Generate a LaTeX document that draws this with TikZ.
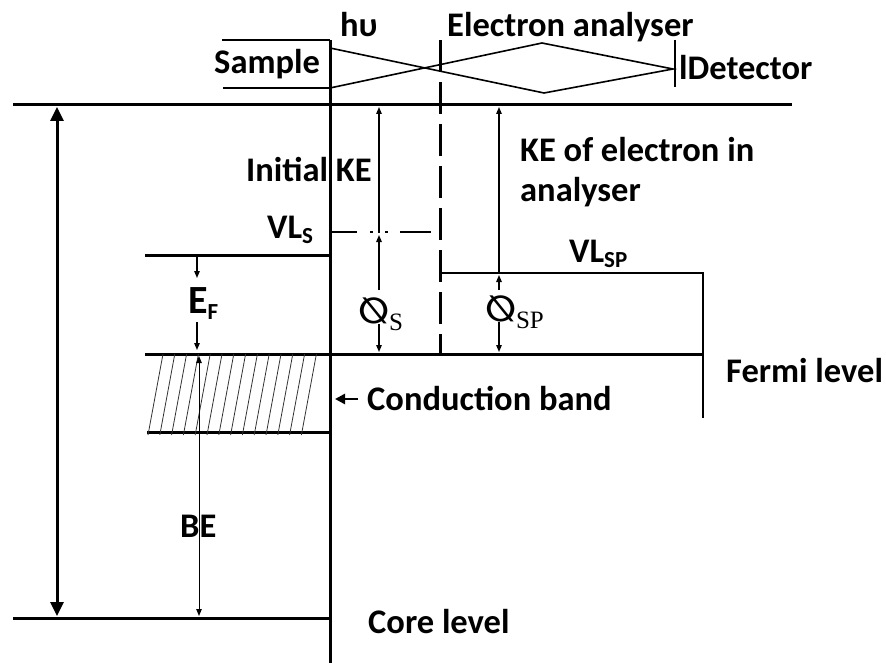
\documentclass[tikz,border=0pt]{standalone}
\usepackage{fontspec}
\setmainfont{Carlito}
\newfontfamily\phifont{Liberation Serif}
\newfontfamily\wffont{DejaVu Sans}
\usetikzlibrary{arrows.meta}

% small lowered subscript in text labels
\newcommand\lvsub[1]{\raisebox{-0.35ex}{\fontsize{23}{23}\selectfont #1}}
% work function symbol with its lowered subscript
\newcommand\wfsym[1]{\reflectbox{\fontsize{36}{36}\wffont\bfseries ∅}\raisebox{-7pt}{#1}}

\begin{document}
\begin{tikzpicture}[
  x=1pt, y=-1pt,
  level/.style={draw=black, line width=3pt},
  edge/.style={draw=black, line width=2.5pt},
  ray/.style={draw=black, line width=1.6pt, line join=miter},
  hatch/.style={draw=black!80, line width=0.8pt},
  bigarrow/.style={line width=3pt, {Triangle[length=14pt,width=13pt]}-{Triangle[length=14pt,width=13pt]}},
  gaparrow/.style={line width=1.3pt, -{Triangle[length=7pt,width=5.5pt]}},
  lbl/.style={font=\fontsize{34.5}{40}\selectfont\bfseries, inner sep=0pt, anchor=base west},
  philbl/.style={font=\fontsize{25}{30}\phifont, inner sep=0pt, anchor=base west}
]
  \useasboundingbox (0,0) rectangle (886,663);

  % Key points
  \coordinate (surfTop) at (330,40);
  \coordinate (surfBot) at (330,663);
  \coordinate (hvTop)   at (13,105);
  \coordinate (coreL)   at (13,618);
  \coordinate (fermiL)  at (145,354);
  \coordinate (fermiR)  at (703,354);

  % Sample surface and energy levels
  \draw[level] (surfTop) -- (surfBot);
  \draw[edge] (222,40) -- (surfTop);
  \draw[edge] (223,88) -- (330,88);
  \draw[level] (hvTop) -- (792,105);
  \draw[level] (145,255) -- (330,255);
  \draw[level] (fermiL) -- (fermiR);
  \draw[level] (147,432) -- (330,432);
  \draw[level] (coreL) -- (330,618);

  % Conduction band hatching
  \foreach \i in {0,...,13} {
    \draw[hatch] ({148+11.8*\i},435) -- ({163+11.8*\i},354);
  }

  % Photon in, electron through analyser to detector
  \draw[ray] (330,48) -- (544,93) -- (673,69) -- (542,43) -- (330,88);
  \draw[edge] (675,40) -- (675,87);

  % Analyser entrance (dashed) and its vacuum level
  \draw[level, dash pattern=on 32pt off 10pt] (440,40) -- (440,354);
  \draw[edge] (440,273) -- (703,273) -- (703,418);

  % Sample vacuum level
  \draw[edge, dash pattern=on 26pt off 13pt on 3pt off 12pt on 3pt off 12pt on 31pt off 4pt]
    (331,232) -- (431,232);

  % Arrows
  \draw[bigarrow] (57,107) -- (57,616);
  \draw[gaparrow] (197,257) -- (197,278);
  \draw[gaparrow] (197,322) -- (197,350);
  \draw[gaparrow, line width=1pt, {Triangle[length=7pt,width=5.5pt]}-{Triangle[length=7pt,width=5.5pt]}]
    (199,356) -- (199,616);
  \draw[gaparrow] (379,233) -- (379,107);
  \draw[gaparrow] (379,290) -- (379,235);
  \draw[gaparrow] (379,324) -- (379,352);
  \draw[gaparrow] (499,273) -- (499,107);
  \draw[gaparrow] (499,290) -- (499,275);
  \draw[gaparrow] (499,322) -- (499,352);
  \draw[line width=2.6pt, -{Triangle[length=10pt,width=10pt]}] (358,399) -- (335,399);

  % Labels
  \node[lbl] (hv) at (340,37) {hυ};
  \node[lbl] (analyser) at (447,37) {Electron analyser};
  \node[lbl] (sample) at (214,74) {Sample};
  \node[lbl] (detector) at (679,80) {lDetector};
  \node[lbl] (initke) at (246,182) {Initial KE};
  \node[lbl] (keA) at (520,162) {KE of electron in};
  \node[lbl] (keB) at (520,202) {analyser};
  \node[lbl] (vls) at (267,238) {VL\lvsub{S}};
  \node[lbl] (vlsp) at (569,262) {VL\lvsub{SP}};
  \node[lbl, font=\fontsize{40}{42}\selectfont\bfseries] (ef) at (188,313) {E\lvsub{F}};
  \node[philbl] (phis) at (358,323) {\wfsym{S}};
  \node[philbl] (phisp) at (485,321) {\wfsym{SP}};
  \node[lbl] (cband) at (367,410) {Conduction band};
  \node[lbl] (fermi) at (726,382) {Fermi level};
  \node[lbl] (be) at (180,537) {BE};
  \node[lbl] (core) at (368,633) {Core level};

\end{tikzpicture}
\end{document}
